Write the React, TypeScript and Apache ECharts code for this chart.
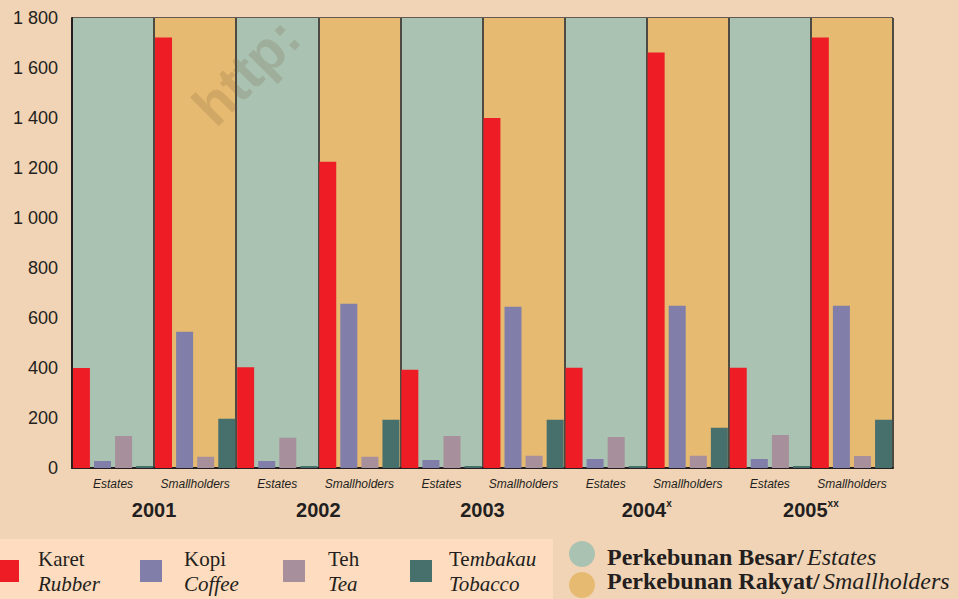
import React, { useEffect, useRef } from "react";
import * as echarts from "echarts";

const categories = [
  "Estates", "Smallholders", "Estates", "Smallholders", "Estates",
  "Smallholders", "Estates", "Smallholders", "Estates", "Smallholders",
];
const years = ["2001", "2002", "2003", "2004", "2005"];
const yearMarks = ["", "", "", "x", "xx"];

const rubber = [400, 1722, 403, 1225, 393, 1400, 401, 1662, 401, 1722];
const coffee = [28, 545, 28, 657, 32, 645, 36, 649, 36, 649];
const tea = [128, 45, 121, 45, 128, 49, 124, 49, 132, 48];
const tobacco = [8, 197, 8, 193, 8, 193, 8, 161, 8, 193];

const yTicks = { min: 0, max: 1800, interval: 200 };

const seriesNames = ["Karet", "Kopi", "Teh", "Tembakau"];
const seriesColors = ["#EE1C25", "#817FAA", "#A78F9B", "#476F6C"];
const legendLabels = [
  ["{a|Karet}", "{b|Rubber}"],
  ["{a|Kopi}", "{b|Coffee}"],
  ["{a|Teh}", "{b|Tea}"],
  ["{a|Te}{c|mbakau}", "{b|Tobacco}"],
];
const legendLeft = [-3, 140, 283, 410];
const legendTextPad = [14, 17, 18, 12];

const fmtThousands = (v: number) =>
  v >= 1000 ? `${Math.floor(v / 1000)} ${String(v % 1000).padStart(3, "0")}` : String(v);

export default function App() {
  const ref = useRef<HTMLDivElement>(null);
  useEffect(() => {
    if (!ref.current) return;
    const chart = echarts.init(ref.current, undefined, { renderer: "svg" });
    const dark = "#231F20";
    const serif = "'Liberation Serif', 'Times New Roman', serif";
    const sans = "'Liberation Sans', Arial, sans-serif";

    const legends = seriesNames.map((n, i) => {
      const pad = legendTextPad[i];
      return {
        data: [n],
        left: legendLeft[i],
        top: 548,
        padding: 0,
        icon: "rect",
        itemWidth: 22,
        itemHeight: 22,
        selectedMode: false,
        formatter: () => legendLabels[i].join("\n"),
        textStyle: {
          rich: {
            a: { fontFamily: serif, fontSize: 21, color: dark, lineHeight: 25, padding: [0, 0, 0, pad] },
            c: { fontFamily: serif, fontSize: 21, fontStyle: "italic", color: dark, lineHeight: 25 },
            b: { fontFamily: serif, fontSize: 21, fontStyle: "italic", color: dark, lineHeight: 25, padding: [0, 0, 0, pad] },
          },
        },
      };
    });

    const dataLists = [rubber, coffee, tea, tobacco];

    chart.setOption({
      animation: false,
      backgroundColor: "#F1D3B5",
      grid: { left: 72, right: 65, top: 18, bottom: 131, containLabel: false },
      legend: legends,
      xAxis: [
        {
          type: "category",
          data: categories,
          position: "bottom",
          axisLine: { show: true, lineStyle: { color: dark, width: 2 } },
          axisTick: { show: false, interval: 0 },
          axisLabel: {
            interval: 0,
            margin: 10,
            fontFamily: sans,
            fontSize: 12,
            fontStyle: "italic",
            color: dark,
          },
          splitLine: { show: true, interval: 0, lineStyle: { color: "#4d4a42", width: 2 } },
          splitArea: { show: true, interval: 0, areaStyle: { color: ["#A9C2B2", "#E6BA70"] } },
          z: 3,
        },
        {
          type: "category",
          data: years,
          position: "bottom",
          axisLine: { show: false },
          axisTick: { show: false },
          splitLine: { show: false },
          splitArea: { show: false },
          axisLabel: {
            interval: 0,
            margin: 30,
            formatter: (v: string, i: number) =>
              yearMarks[i] ? `{y|${v}}{s|${yearMarks[i]}}` : `{y|${v}}`,
            rich: {
              y: { fontFamily: sans, fontSize: 20, fontWeight: "bold", color: dark, lineHeight: 24 },
              s: { fontFamily: sans, fontSize: 10, fontWeight: "bold", color: dark, verticalAlign: "top", lineHeight: 24, padding: [0, 0, 12, 0] },
            },
          },
        },
      ],
      yAxis: {
        type: "value",
        min: yTicks.min,
        max: yTicks.max,
        interval: yTicks.interval,
        axisLine: { show: true, lineStyle: { color: dark, width: 2 } },
        axisTick: { show: false },
        axisLabel: {
          margin: 14,
          fontFamily: sans,
          fontSize: 18,
          color: dark,
          formatter: (v: number) => fmtThousands(v),
        },
        splitLine: { show: true, lineStyle: { color: "#333333", width: 1.5 } },
        z: 3,
      },
      series: seriesNames.map((n, i) => ({
        name: n,
        type: "bar",
        xAxisIndex: 0,
        data: dataLists[i],
        barWidth: 17,
        barGap: "24%",
        itemStyle: { color: seriesColors[i] },
        z: 4,
      })),
      graphic: [
        {
          type: "rect",
          shape: { x: 0, y: 539, width: 553, height: 60 },
          style: { fill: "#FDDCBF" },
          z: -10,
          silent: true,
        },
        {
          type: "text",
          x: 222,
          y: 135,
          rotation: Math.PI / 4,
          silent: true,
          z: 100,
          style: {
            text: "http:",
            fontFamily: sans,
            fontWeight: "bold",
            fontSize: 56,
            fill: "rgba(120,95,60,0.2)",
            verticalAlign: "bottom",
          },
        },
        {
          type: "circle",
          shape: { cx: 582, cy: 554, r: 13 },
          style: { fill: "#A9C2B2" },
          silent: true,
        },
        {
          type: "circle",
          shape: { cx: 582, cy: 585, r: 13 },
          style: { fill: "#E6BA70" },
          silent: true,
        },
        {
          type: "text",
          x: 607,
          y: 557,
          silent: true,
          style: {
            text: "{b|Perkebunan Besar/} {i|Estates}",
            verticalAlign: "middle",
            rich: {
              b: { fontFamily: serif, fontSize: 24, fontWeight: "bold", fill: dark },
              i: { fontFamily: serif, fontSize: 24, fontStyle: "italic", fill: dark },
            },
          },
        },
        {
          type: "text",
          x: 607,
          y: 581,
          silent: true,
          style: {
            text: "{b|Perkebunan Rakyat/} {i|Smallholders}",
            verticalAlign: "middle",
            rich: {
              b: { fontFamily: serif, fontSize: 24, fontWeight: "bold", fill: dark },
              i: { fontFamily: serif, fontSize: 24, fontStyle: "italic", fill: dark },
            },
          },
        },
      ],
    });
    return () => chart.dispose();
  }, []);
  return (
    <div
      ref={ref}
      style={{ position: "fixed", left: 0, top: 0, width: 958, height: 599 }}
    />
  );
}
